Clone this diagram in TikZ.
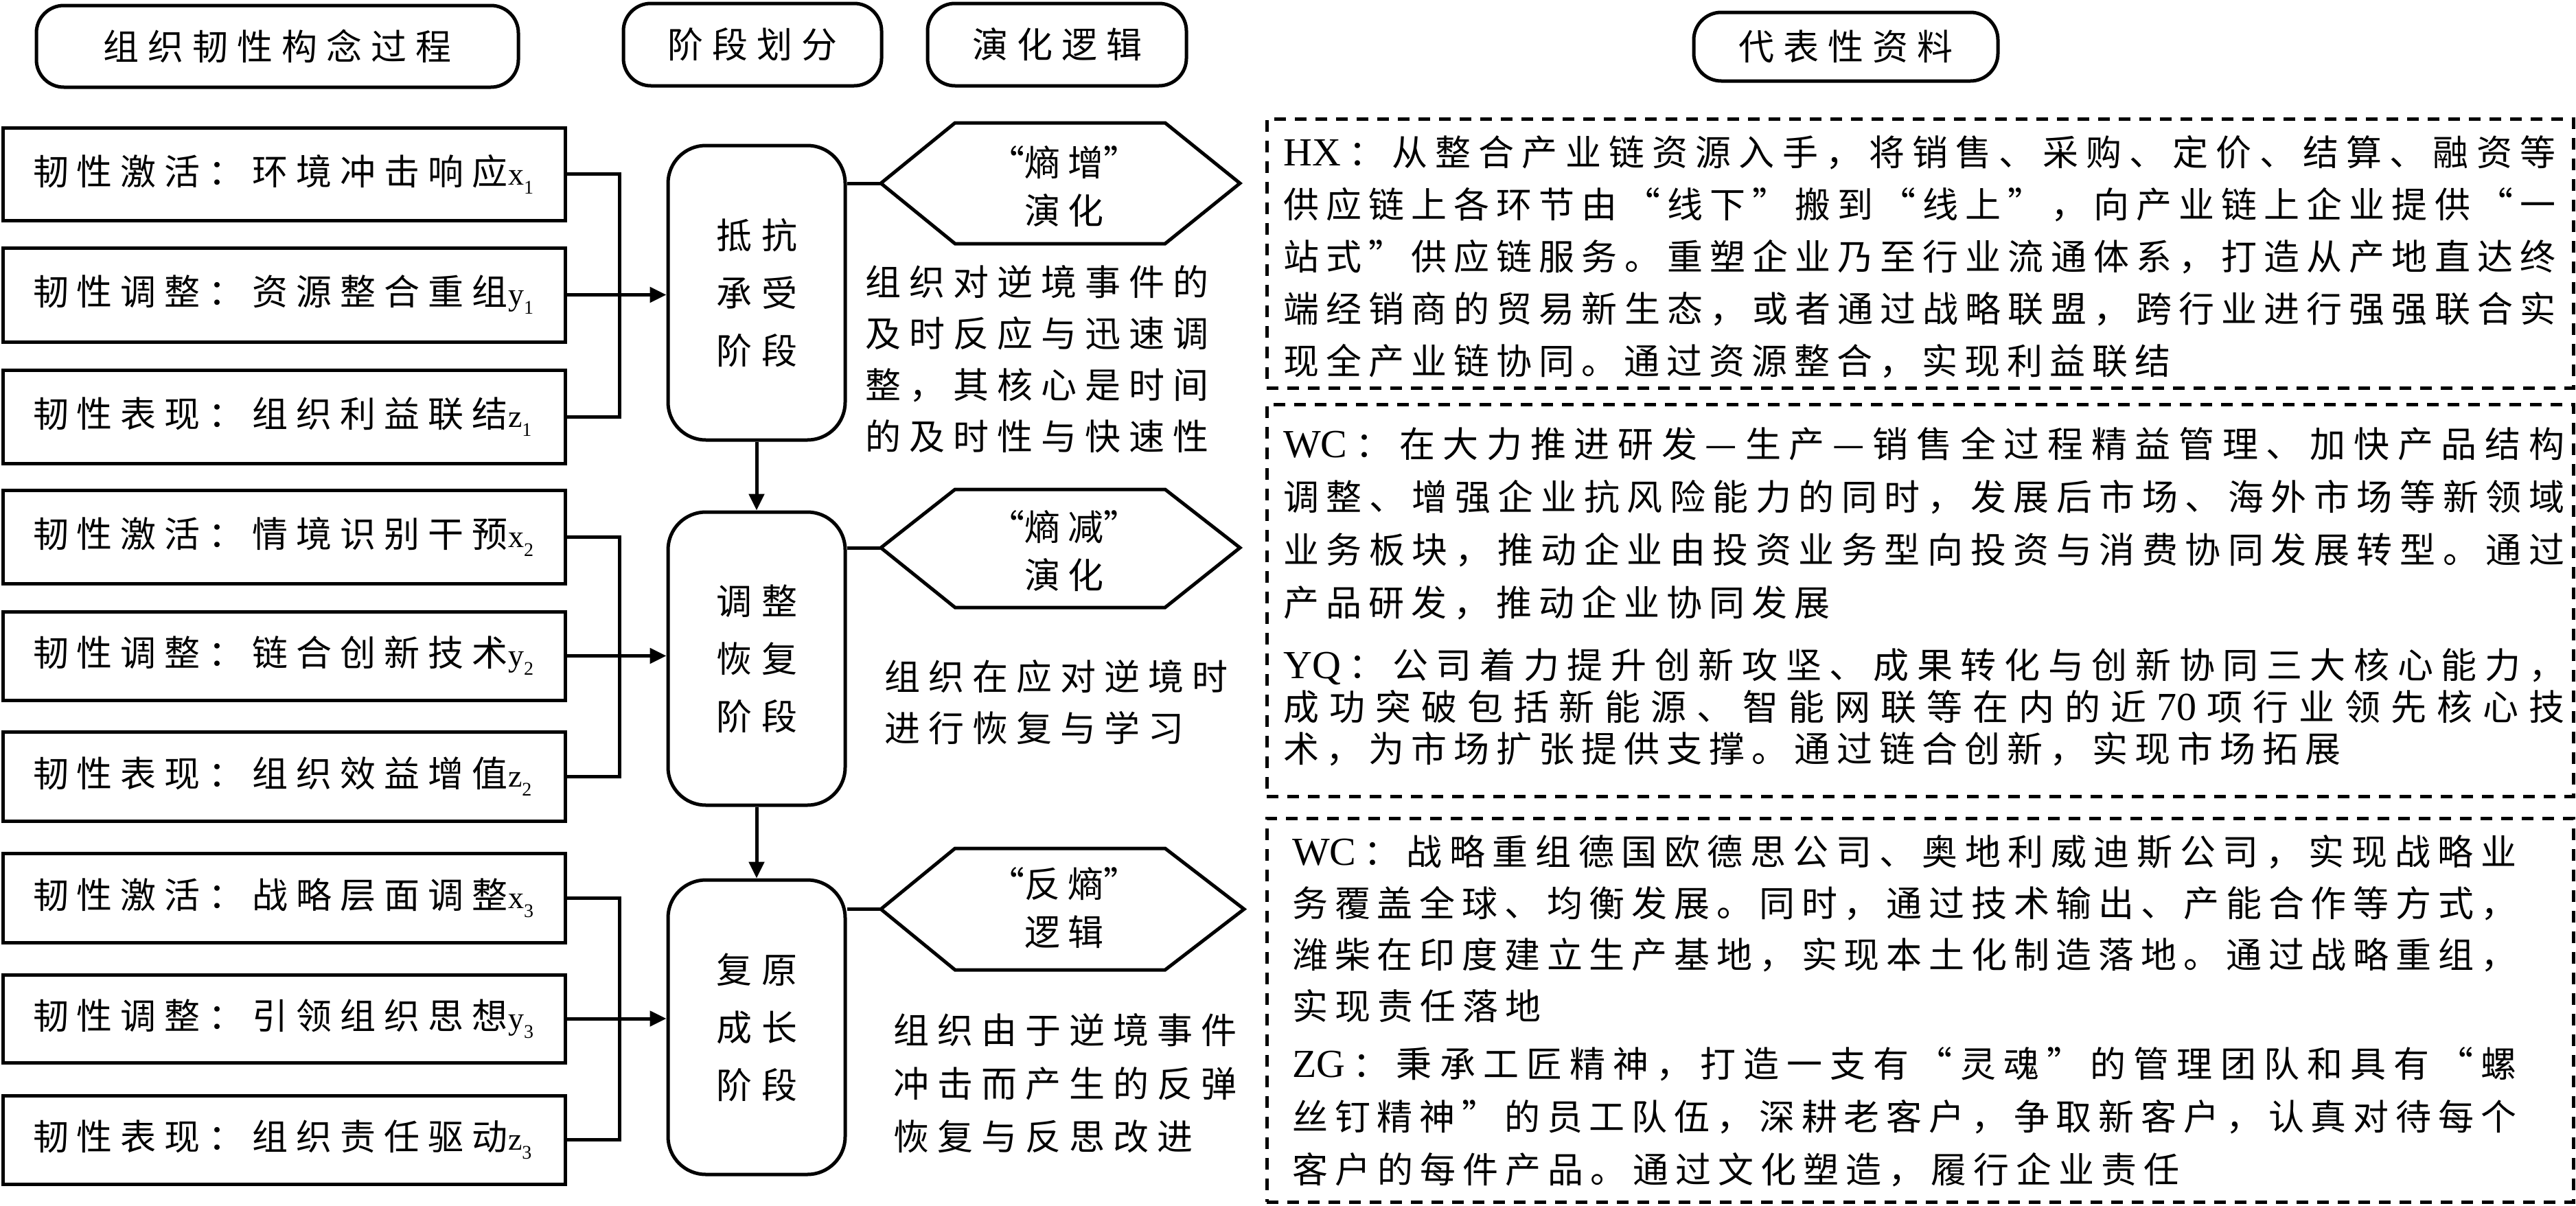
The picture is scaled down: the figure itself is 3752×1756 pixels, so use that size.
\documentclass[tikz,border=0pt]{standalone}
\usepackage{fontspec}
\setmainfont{Noto Sans CJK SC}
\newfontfamily\latfont{Liberation Serif}
\usetikzlibrary{arrows.meta}
\makeatletter
\newcommand\spreadchars[2]{\@tfor\mych:=#2\do{\mych\hskip#1\relax}\unskip}
\makeatother
\newcommand\cjkline[2][12pt]{\hbox{\spreadchars{#1}{#2}}}
\newcommand\cjkjust[2]{\hbox to #1{\spreadchars{2pt plus 1fil}{#2}}}
\newcommand\latx[1]{{\latfont\fontsize{58}{60}\selectfont #1}}
\newcommand\xsub[2]{{\latfont\fontsize{46}{46}\selectfont #1}\raisebox{-13pt}{\latfont\fontsize{28}{28}\selectfont #2}}
\newcommand\lpara[2]{\vbox{\baselineskip=#1\lineskiplimit=-1000pt\relax #2}}
\newcommand\cpara[2]{\vbox{\baselineskip=#1\lineskiplimit=-1000pt\relax\halign{\hfil##\hfil\cr#2\crcr}}}
\tikzset{
  lbox/.style={draw, line width=5pt, minimum width=819pt, minimum height=#1, inner sep=0pt},
  lbox/.default=135pt,
  sbox/.style={draw, line width=5pt, rounded corners=55pt, minimum width=258pt, minimum height=#1, inner sep=0pt},
  sbox/.default=429pt,
  hdr/.style={draw, line width=5pt, rounded corners=40pt, inner sep=0pt},
  dbox/.style={draw, line width=5pt, dash pattern=on 17pt off 13pt, inner sep=0pt},
  txt/.style={inner sep=0pt},
  conn/.style={line width=5pt},
  arr/.style={line width=5pt, -{Triangle[length=24pt,width=22pt]}},
  hexline/.style={line width=5pt, line join=miter}
}
\begin{document}
\begin{tikzpicture}[x=1pt, y=-1pt, every node/.style={font=\fontsize{52}{62}\selectfont}]
\fill[white] (0,0) rectangle (3752,1756);
\useasboundingbox (0,0) rectangle (3752,1756);

% headers
\node[hdr, minimum width=702pt, minimum height=119pt] (hA) at (404,67.5) {\cjkline[13pt]{组织韧性构念过程}};
\node[hdr, minimum width=376pt, minimum height=120pt] (hB) at (1096,65) {\cjkline[13pt]{阶段划分}};
\node[hdr, minimum width=377pt, minimum height=120pt] (hC) at (1539.5,65) {\cjkline[13pt]{演化逻辑}};
\node[hdr, minimum width=443pt, minimum height=100pt] (hD) at (2688.5,68) {\cjkline[13pt]{代表性资料}};

% left boxes
\node[lbox=135pt] (b1) at (413.5,253.5) {\hbox to 731pt{\cjkline{韧性激活：环境冲击响应}\xsub{x}{1}\hfil}};
\node[lbox=137pt] (b2) at (413.5,429.5) {\hbox to 731pt{\cjkline{韧性调整：资源整合重组}\xsub{y}{1}\hfil}};
\node[lbox=136pt] (b3) at (413.5,607) {\hbox to 731pt{\cjkline{韧性表现：组织利益联结}\xsub{z}{1}\hfil}};
\node[lbox=136pt] (b4) at (413.5,782) {\hbox to 731pt{\cjkline{韧性激活：情境识别干预}\xsub{x}{2}\hfil}};
\node[lbox=129pt] (b5) at (413.5,955.5) {\hbox to 731pt{\cjkline{韧性调整：链合创新技术}\xsub{y}{2}\hfil}};
\node[lbox=130pt] (b6) at (413.5,1131) {\hbox to 731pt{\cjkline{韧性表现：组织效益增值}\xsub{z}{2}\hfil}};
\node[lbox=130pt] (b7) at (413.5,1308) {\hbox to 731pt{\cjkline{韧性激活：战略层面调整}\xsub{x}{3}\hfil}};
\node[lbox=128pt] (b8) at (413.5,1484) {\hbox to 731pt{\cjkline{韧性调整：引领组织思想}\xsub{y}{3}\hfil}};
\node[lbox=129pt] (b9) at (413.5,1660.5) {\hbox to 731pt{\cjkline{韧性表现：组织责任驱动}\xsub{z}{3}\hfil}};

% stage boxes
\node[sbox=429pt] (s1) at (1102,426.5) {\lpara{84pt}{\cjkline[14pt]{抵抗}\cjkline[14pt]{承受}\cjkline[14pt]{阶段}}};
\node[sbox=427pt] (s2) at (1102,959.5) {\lpara{84pt}{\cjkline[14pt]{调整}\cjkline[14pt]{恢复}\cjkline[14pt]{阶段}}};
\node[sbox=429pt] (s3) at (1102,1496.5) {\lpara{84pt}{\cjkline[14pt]{复原}\cjkline[14pt]{成长}\cjkline[14pt]{阶段}}};

% junctions and connectors
\coordinate (j1) at (902,429.5);
\coordinate (j2) at (902,955.5);
\coordinate (j3) at (902,1484);
\draw[conn] (b1.east) -| (j1) |- (b3.east);
\draw[conn] (b4.east) -| (j2) |- (b6.east);
\draw[conn] (b7.east) -| (j3) |- (b9.east);
\draw[arr] (b2.east) -- (b2.east -| s1.west);
\draw[arr] (b5.east) -- (b5.east -| s2.west);
\draw[arr] (b8.east) -- (b8.east -| s3.west);
\draw[arr] (s1.south) -- (s2.north);
\draw[arr] (s2.south) -- (s3.north);

% hexagons
\draw[hexline] (1283,267) -- (1391,179) -- (1697,179) -- (1806,267) -- (1697,355) -- (1391,355) -- cycle;
\coordinate (h1w) at (1283,267);
\draw[hexline] (1283,798) -- (1391,713) -- (1697,713) -- (1806,798) -- (1697,885) -- (1391,885) -- cycle;
\coordinate (h2w) at (1283,798);
\draw[hexline] (1283,1324.5) -- (1391,1236) -- (1697,1236) -- (1812,1324.5) -- (1697,1413) -- (1391,1413) -- cycle;
\coordinate (h3w) at (1283,1324.5);
\draw[conn] (h1w -| s1.east) -- (h1w);
\draw[conn] (h2w -| s2.east) -- (h2w);
\draw[conn] (h3w -| s3.east) -- (h3w);

\node[txt] (h1t) at (1550,272) {\cpara{70pt}{“\cjkline{熵增}”\cr\cjkline{演化}}};
\node[txt] (h2t) at (1550,802.5) {\cpara{70pt}{“\cjkline{熵减}”\cr\cjkline{演化}}};
\node[txt] (h3t) at (1550,1322.5) {\cpara{70pt}{“\cjkline{反熵}”\cr\cjkline{逻辑}}};

% descriptions
\node[txt, anchor=west] (e1) at (1260,523.5) {\lpara{75pt}{\cjkline{组织对逆境事件的}\cjkline{及时反应与迅速调}\cjkline{整，其核心是时间}\cjkline{的及时性与快速性}}};
\node[txt, anchor=west] (e2) at (1288,1023.5) {\lpara{75pt}{\cjkline{组织在应对逆境时}\cjkline{进行恢复与学习}}};
\node[txt, anchor=west] (e3) at (1301,1578.5) {\lpara{77.5pt}{\cjkline{组织由于逆境事件}\cjkline{冲击而产生的反弹}\cjkline{恢复与反思改进}}};

% dashed boxes
\node[dbox, minimum width=1903pt, minimum height=392pt] (D1) at (2796.5,369) {};
\node[dbox, minimum width=1903pt, minimum height=571pt] (D2) at (2796.5,874.5) {};
\node[dbox, minimum width=1903pt, minimum height=559pt] (D3) at (2796.5,1471.5) {};

\node[txt, anchor=west] (p1) at (1869,374) {\lpara{76pt}{%
\cjkjust{1853pt}{{\latx{HX}}：从整合产业链资源入手，将销售、采购、定价、结算、融资等}%
\cjkjust{1853pt}{供应链上各环节由“线下”搬到“线上”，向产业链上企业提供“一}%
\cjkjust{1853pt}{站式”供应链服务。重塑企业乃至行业流通体系，打造从产地直达终}%
\cjkjust{1853pt}{端经销商的贸易新生态，或者通过战略联盟，跨行业进行强强联合实}%
\cjkline[10pt]{现全产业链协同。通过资源整合，实现利益联结}}};

\node[txt, anchor=west] (p2) at (1869,762.5) {\lpara{77pt}{%
\cjkjust{1866pt}{{\latx{WC}}：在大力推进研发—生产—销售全过程精益管理、加快产品结构}%
\cjkjust{1866pt}{调整、增强企业抗风险能力的同时，发展后市场、海外市场等新领域}%
\cjkjust{1866pt}{业务板块，推动企业由投资业务型向投资与消费协同发展转型。通过}%
\cjkline[10pt]{产品研发，推动企业协同发展}}};

\node[txt, anchor=west] (p3) at (1869,1030) {\lpara{61pt}{%
\cjkjust{1866pt}{{\latx{YQ}}：公司着力提升创新攻坚、成果转化与创新协同三大核心能力，}%
\cjkjust{1866pt}{成功突破包括新能源、智能网联等在内的近{\latx{70}}项行业领先核心技}%
\cjkline[10pt]{术，为市场扩张提供支撑。通过链合创新，实现市场拓展}}};

\node[txt, anchor=west] (p4) at (1882,1353.5) {\lpara{75pt}{%
\cjkjust{1783pt}{{\latx{WC}}：战略重组德国欧德思公司、奥地利威迪斯公司，实现战略业}%
\cjkjust{1783pt}{务覆盖全球、均衡发展。同时，通过技术输出、产能合作等方式，}%
\cjkjust{1783pt}{潍柴在印度建立生产基地，实现本土化制造落地。通过战略重组，}%
\cjkline[10pt]{实现责任落地}}};

\node[txt, anchor=west] (p5) at (1882,1627) {\lpara{77pt}{%
\cjkjust{1783pt}{{\latx{ZG}}：秉承工匠精神，打造一支有“灵魂”的管理团队和具有“螺}%
\cjkjust{1783pt}{丝钉精神”的员工队伍，深耕老客户，争取新客户，认真对待每个}%
\cjkline[10pt]{客户的每件产品。通过文化塑造，履行企业责任}}};
\end{tikzpicture}
\end{document}
